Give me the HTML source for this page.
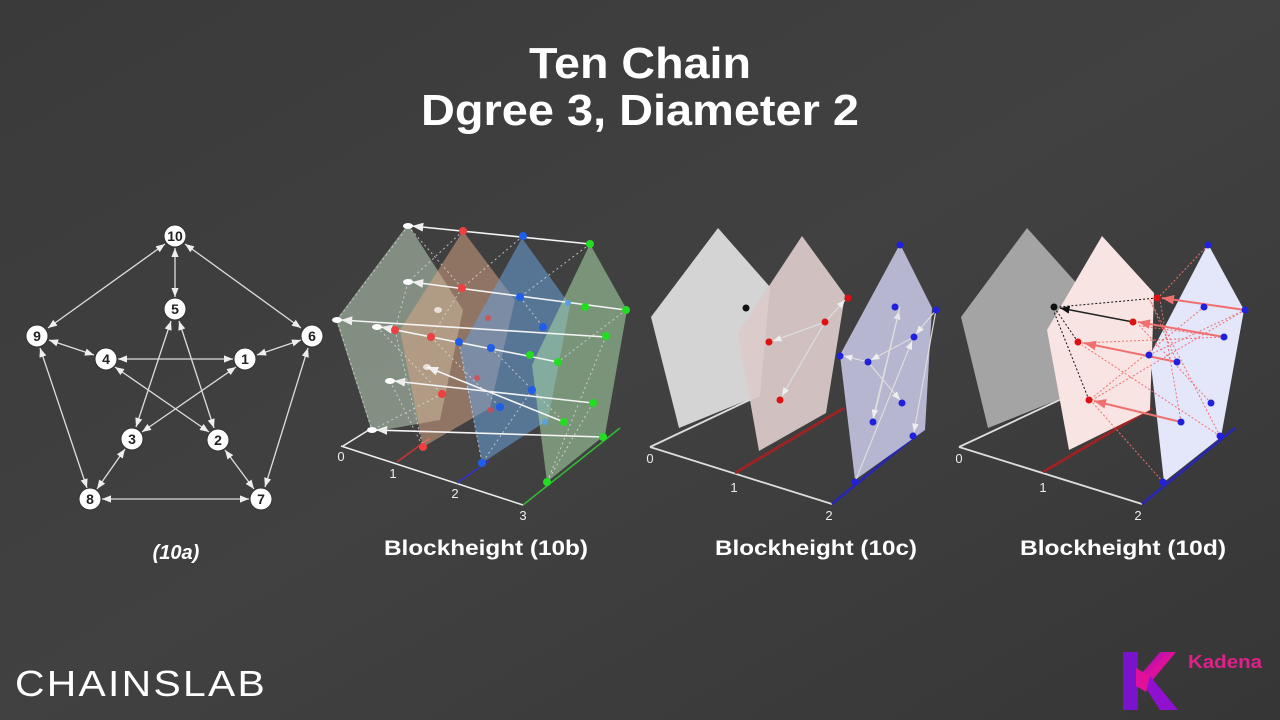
<!DOCTYPE html>
<html><head><meta charset="utf-8"><style>
html,body{margin:0;padding:0;width:1280px;height:720px;overflow:hidden;background:#3c3c3c}
svg{display:block}
text{font-family:"Liberation Sans","DejaVu Sans",sans-serif}
</style></head><body>
<svg width="1280" height="720" viewBox="0 0 1280 720" xmlns="http://www.w3.org/2000/svg">
<defs>
<linearGradient id="bg" x1="0" y1="0" x2="1" y2="1">
<stop offset="0" stop-color="#3a3a3a"/><stop offset="0.5" stop-color="#414141"/><stop offset="1" stop-color="#363636"/>
</linearGradient>
<marker id="aw" viewBox="0 0 10 10" refX="10" refY="5" markerWidth="7" markerHeight="7" orient="auto-start-reverse"><path d="M0,1L10,5L0,9z" fill="#eee"/></marker>
<marker id="ar" viewBox="0 0 10 10" refX="10" refY="5" markerWidth="6" markerHeight="6" orient="auto"><path d="M0,1L10,5L0,9z" fill="#f07070"/></marker>
<marker id="ab" viewBox="0 0 10 10" refX="10" refY="5" markerWidth="6" markerHeight="6" orient="auto"><path d="M0,1L10,5L0,9z" fill="#111"/></marker>
<linearGradient id="kg" x1="0" y1="0" x2="1" y2="1"><stop offset="0" stop-color="#7a10d0"/><stop offset="0.5" stop-color="#e0109a"/><stop offset="1" stop-color="#8010d0"/></linearGradient>
</defs>
<rect width="1280" height="720" fill="url(#bg)"/>

<text x="640" y="78" text-anchor="middle" font-size="44" font-weight="bold" fill="#fff" textLength="222" lengthAdjust="spacingAndGlyphs">Ten Chain</text>
<text x="640" y="125" text-anchor="middle" font-size="44" font-weight="bold" fill="#fff" textLength="438" lengthAdjust="spacingAndGlyphs">Dgree 3, Diameter 2</text>

<!-- 10a Petersen -->
<g stroke="#ddd" stroke-width="1.3" marker-start="url(#aw)" marker-end="url(#aw)" fill="none">
<line x1="165" y1="244" x2="48" y2="328"/>
<line x1="175" y1="248" x2="175" y2="297"/>
<line x1="185" y1="244" x2="301" y2="328"/>
<line x1="49" y1="340" x2="94" y2="355"/>
<line x1="40" y1="348" x2="87" y2="488"/>
<line x1="301" y1="340" x2="257" y2="355"/>
<line x1="308" y1="348" x2="265" y2="487"/>
<line x1="118" y1="359" x2="233" y2="359"/>
<line x1="115" y1="367" x2="209" y2="432"/>
<line x1="236" y1="367" x2="142" y2="432"/>
<line x1="171" y1="321" x2="136" y2="427"/>
<line x1="179" y1="321" x2="214" y2="428"/>
<line x1="125" y1="449" x2="97" y2="489"/>
<line x1="225" y1="450" x2="254" y2="489"/>
<line x1="102" y1="499" x2="249" y2="499"/>
</g>
<g fill="#fff" stroke="#333" stroke-width="1">
<circle cx="175" cy="236" r="11"/><circle cx="175" cy="309" r="11"/><circle cx="37" cy="336" r="11"/><circle cx="312" cy="336" r="11"/><circle cx="106" cy="359" r="11"/><circle cx="245" cy="359" r="11"/><circle cx="132" cy="439" r="11"/><circle cx="218" cy="440" r="11"/><circle cx="90" cy="499" r="11"/><circle cx="261" cy="499" r="11"/>
</g>
<g font-size="14" font-weight="bold" fill="#222" text-anchor="middle">
<text x="175" y="241">10</text><text x="175" y="314">5</text><text x="37" y="341">9</text><text x="312" y="341">6</text><text x="106" y="364">4</text><text x="245" y="364">1</text><text x="132" y="444">3</text><text x="218" y="445">2</text><text x="90" y="504">8</text><text x="261" y="504">7</text>
</g>
<text x="176" y="559" text-anchor="middle" font-size="20" font-weight="bold" font-style="italic" fill="#fff">(10a)</text>

<!-- 10b -->
<g stroke="#eee" stroke-width="1.5" fill="none">
<line x1="341" y1="446" x2="523" y2="505"/>
<line x1="343" y1="446" x2="372" y2="428"/>
</g>
<line x1="397" y1="462" x2="430" y2="438" stroke="#c33" stroke-width="1.5"/>
<line x1="457" y1="483" x2="490" y2="460" stroke="#33c" stroke-width="1.5"/>
<line x1="523" y1="505" x2="620" y2="428" stroke="#3b3" stroke-width="1.5"/>
<polygon points="408,224 463,310 440,420 372,432 336,320" fill="#b8d0b8" fill-opacity="0.55"/>
<polygon points="463,231 515,300 490,408 423,447 400,330" fill="#e0a888" fill-opacity="0.5"/>
<polygon points="522,238 570,305 548,420 482,463 460,350" fill="#6aa0d8" fill-opacity="0.55"/>
<polygon points="590,244 627,310 605,435 547,482 532,365" fill="#a8d8a8" fill-opacity="0.55"/>
<g stroke="#ddd" stroke-width="1" stroke-dasharray="2,3" fill="none" opacity="0.8">
<line x1="408" y1="226" x2="462" y2="288"/><line x1="463" y1="231" x2="408" y2="282"/><line x1="523" y1="236" x2="462" y2="288"/><line x1="590" y1="244" x2="520" y2="297"/>
<line x1="408" y1="282" x2="395" y2="330"/><line x1="462" y1="288" x2="431" y2="337"/><line x1="520" y1="297" x2="543" y2="327"/><line x1="626" y1="310" x2="558" y2="362"/>
<line x1="337" y1="320" x2="372" y2="430"/><line x1="395" y1="330" x2="423" y2="447"/><line x1="459" y1="342" x2="482" y2="463"/><line x1="606" y1="336" x2="547" y2="482"/>
<line x1="377" y1="327" x2="442" y2="394"/><line x1="431" y1="337" x2="500" y2="407"/><line x1="491" y1="348" x2="564" y2="422"/><line x1="390" y1="381" x2="423" y2="447"/>
<line x1="442" y1="394" x2="372" y2="430"/><line x1="532" y1="390" x2="482" y2="463"/><line x1="593" y1="403" x2="547" y2="482"/><line x1="408" y1="226" x2="337" y2="320"/>
</g>
<g stroke="#f4f4f4" stroke-width="1.6" fill="none" marker-end="url(#aw)">
<line x1="590" y1="244" x2="412" y2="226"/>
<line x1="626" y1="310" x2="412" y2="282"/>
<line x1="606" y1="337" x2="341" y2="320"/>
<line x1="558" y1="362" x2="381" y2="327"/>
<line x1="593" y1="403" x2="394" y2="381"/>
<line x1="603" y1="437" x2="376" y2="430"/>
<line x1="564" y1="422" x2="427" y2="367"/>
</g>
<g fill="#fff"><ellipse cx="408" cy="226" rx="5" ry="3"/><ellipse cx="408" cy="282" rx="5" ry="3"/><ellipse cx="337" cy="320" rx="5" ry="3"/><ellipse cx="377" cy="327" rx="5" ry="3"/><ellipse cx="390" cy="381" rx="5" ry="3"/><ellipse cx="372" cy="430" rx="5" ry="3"/><ellipse cx="427" cy="367" rx="4" ry="3" opacity="0.7"/><ellipse cx="438" cy="310" rx="4" ry="3" opacity="0.7"/></g>
<g fill="#ee4040"><circle cx="463" cy="231" r="4"/><circle cx="462" cy="288" r="4"/><circle cx="395" cy="330" r="4"/><circle cx="431" cy="337" r="4"/><circle cx="442" cy="394" r="4"/><circle cx="423" cy="447" r="4"/><circle cx="488" cy="318" r="3" opacity="0.7"/><circle cx="477" cy="378" r="3" opacity="0.7"/><circle cx="490" cy="410" r="3" opacity="0.7"/></g>
<g fill="#1e5ee8"><circle cx="523" cy="236" r="4"/><circle cx="520" cy="297" r="4"/><circle cx="543" cy="327" r="4"/><circle cx="459" cy="342" r="4"/><circle cx="491" cy="348" r="4"/><circle cx="532" cy="390" r="4"/><circle cx="500" cy="407" r="4"/><circle cx="482" cy="463" r="4"/><circle cx="568" cy="303" r="3" fill="#5aa0e0"/><circle cx="545" cy="422" r="3" fill="#5aa0e0"/></g>
<g fill="#22dd22"><circle cx="590" cy="244" r="4"/><circle cx="626" cy="310" r="4"/><circle cx="606" cy="336" r="4"/><circle cx="530" cy="355" r="4"/><circle cx="558" cy="362" r="4"/><circle cx="593" cy="403" r="4"/><circle cx="564" cy="422" r="4"/><circle cx="603" cy="437" r="4"/><circle cx="547" cy="482" r="4"/><circle cx="585" cy="307" r="4"/></g>
<g font-size="13" fill="#eee" text-anchor="middle"><text x="341" y="461">0</text><text x="393" y="478">1</text><text x="455" y="498">2</text><text x="523" y="520">3</text></g>
<text x="486" y="555" text-anchor="middle" font-size="21" font-weight="bold" fill="#fff" textLength="204" lengthAdjust="spacingAndGlyphs">Blockheight (10b)</text>

<!-- 10c -->
<g stroke="#ddd" stroke-width="1.8"><line x1="650" y1="447" x2="832" y2="504"/><line x1="650" y1="447" x2="760" y2="395"/></g>
<line x1="735" y1="473" x2="844" y2="408" stroke="#9a2424" stroke-width="3"/>
<line x1="832" y1="504" x2="925" y2="428" stroke="#2828a8" stroke-width="3"/>
<polygon points="718,228 770,287 760,395 679,428 651,317" fill="#d4d4d4"/>
<polygon points="802,236 845,295 826,413 759,451 738,333" fill="#dccaca" fill-opacity="0.93"/>
<polygon points="900,244 932,308 925,430 855,480 840,355" fill="#c0c0dc" fill-opacity="0.93"/>
<g stroke="#ddd" stroke-width="1.2" fill="none" marker-end="url(#aw)">
<line x1="825" y1="322" x2="773" y2="341"/><line x1="825" y1="322" x2="782" y2="396"/><line x1="825" y1="322" x2="845" y2="300"/>
<line x1="873" y1="422" x2="899" y2="311"/><line x1="855" y1="482" x2="912" y2="341"/><line x1="868" y1="362" x2="900" y2="400"/><line x1="914" y1="337" x2="871" y2="360"/><line x1="868" y1="362" x2="844" y2="356"/><line x1="936" y1="310" x2="914" y2="432"/><line x1="936" y1="310" x2="916" y2="334"/><line x1="900" y1="307" x2="873" y2="418"/>
</g>
<circle cx="746" cy="308" r="3.5" fill="#111"/>
<g fill="#dd1111"><circle cx="848" cy="298" r="3.5"/><circle cx="825" cy="322" r="3.5"/><circle cx="769" cy="342" r="3.5"/><circle cx="780" cy="400" r="3.5"/></g>
<g fill="#2020dd"><circle cx="900" cy="245" r="3.5"/><circle cx="895" cy="307" r="3.5"/><circle cx="936" cy="310" r="3.5"/><circle cx="914" cy="337" r="3.5"/><circle cx="840" cy="356" r="3.5"/><circle cx="868" cy="362" r="3.5"/><circle cx="902" cy="403" r="3.5"/><circle cx="873" cy="422" r="3.5"/><circle cx="913" cy="436" r="3.5"/><circle cx="855" cy="482" r="3.5"/></g>
<g font-size="13" fill="#eee" text-anchor="middle"><text x="650" y="463">0</text><text x="734" y="492">1</text><text x="829" y="520">2</text></g>
<text x="816" y="555" text-anchor="middle" font-size="21" font-weight="bold" fill="#fff" textLength="202" lengthAdjust="spacingAndGlyphs">Blockheight (10c)</text>

<!-- 10d -->
<g stroke="#ddd" stroke-width="1.8"><line x1="959" y1="447" x2="1142" y2="504"/><line x1="959" y1="447" x2="1070" y2="395"/></g>
<line x1="1043" y1="472" x2="1152" y2="408" stroke="#9a2424" stroke-width="3"/>
<line x1="1142" y1="504" x2="1235" y2="428" stroke="#2828a8" stroke-width="3"/>
<polygon points="1027,228 1080,287 1070,395 988,428 961,317" fill="#a4a4a4"/>
<polygon points="1102,236 1154,293 1150,410 1069,450 1047,330" fill="#f8e4e2"/>
<polygon points="1208,244 1244,310 1221,437 1164,482 1150,355" fill="#e4e6fa"/>
<g stroke="#f07070" stroke-width="1" stroke-dasharray="2,2" fill="none">
<line x1="1208" y1="245" x2="1160" y2="296"/><line x1="1163" y1="482" x2="1092" y2="402"/>
<line x1="1245" y1="310" x2="1092" y2="400"/><line x1="1224" y1="337" x2="1082" y2="343"/><line x1="1220" y1="436" x2="1150" y2="300"/><line x1="1211" y1="403" x2="1138" y2="324"/><line x1="1204" y1="307" x2="1092" y2="398"/><line x1="1181" y1="422" x2="1160" y2="300"/><line x1="1149" y1="355" x2="1245" y2="310"/><line x1="1177" y1="362" x2="1150" y2="300"/><line x1="1224" y1="337" x2="1140" y2="326"/><line x1="1220" y1="436" x2="1082" y2="345"/>
</g>
<g stroke="#111" stroke-width="1" stroke-dasharray="2,2" fill="none"><line x1="1157" y1="298" x2="1058" y2="307"/><line x1="1078" y1="342" x2="1056" y2="310"/><line x1="1089" y1="400" x2="1054" y2="312"/></g>
<line x1="1133" y1="322" x2="1060" y2="308" stroke="#222" stroke-width="1.6" marker-end="url(#ab)"/>
<g stroke="#f07070" stroke-width="2" fill="none" marker-end="url(#ar)">
<line x1="1245" y1="310" x2="1162" y2="298"/><line x1="1224" y1="337" x2="1138" y2="322"/><line x1="1177" y1="362" x2="1084" y2="343"/><line x1="1181" y1="422" x2="1094" y2="401"/>
</g>
<circle cx="1054" cy="307" r="3.5" fill="#111"/>
<g fill="#dd1111"><circle cx="1157" cy="298" r="3.5"/><circle cx="1133" cy="322" r="3.5"/><circle cx="1078" cy="342" r="3.5"/><circle cx="1089" cy="400" r="3.5"/></g>
<g fill="#2020dd"><circle cx="1208" cy="245" r="3.5"/><circle cx="1204" cy="307" r="3.5"/><circle cx="1245" cy="310" r="3.5"/><circle cx="1224" cy="337" r="3.5"/><circle cx="1149" cy="355" r="3.5"/><circle cx="1177" cy="362" r="3.5"/><circle cx="1211" cy="403" r="3.5"/><circle cx="1181" cy="422" r="3.5"/><circle cx="1220" cy="436" r="3.5"/><circle cx="1163" cy="482" r="3.5"/></g>
<g font-size="13" fill="#eee" text-anchor="middle"><text x="959" y="463">0</text><text x="1043" y="492">1</text><text x="1138" y="520">2</text></g>
<text x="1123" y="555" text-anchor="middle" font-size="21" font-weight="bold" fill="#fff" textLength="206" lengthAdjust="spacingAndGlyphs">Blockheight (10d)</text>

<!-- logos -->
<text x="15" y="696" font-size="36" fill="#fff" textLength="252" lengthAdjust="spacingAndGlyphs" letter-spacing="2">CHAINSLAB</text>
<rect x="1123" y="652" width="15" height="58" fill="#7a14cc"/>
<polygon points="1136,680 1160,652 1176,652 1146,688" fill="url(#kg)"/>
<polygon points="1138,676 1150,676 1178,710 1160,710" fill="#9010d0"/>
<polygon points="1136,668 1150,676 1146,692 1136,686" fill="#e0109a"/>
<text x="1188" y="668" font-size="18" font-weight="bold" fill="#e0208a" textLength="74" lengthAdjust="spacingAndGlyphs">Kadena</text>
</svg>
</body></html>
